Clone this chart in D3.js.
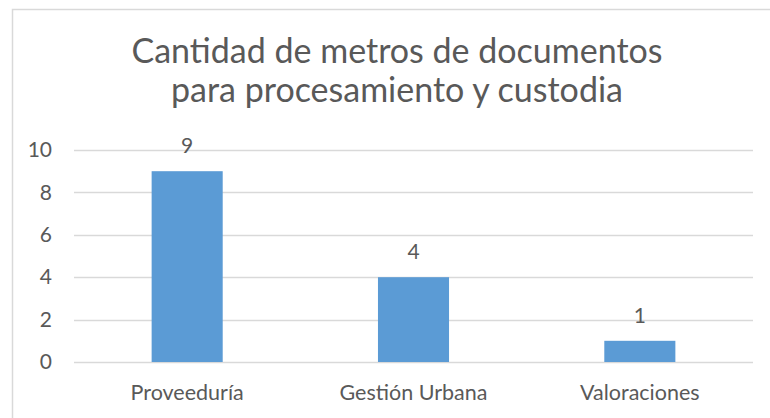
<!DOCTYPE html>
<html>
<head>
<meta charset="utf-8">
<script src="https://cdn.jsdelivr.net/npm/d3@7"></script>
<style>
  body { margin: 0; background: #fff; }
  text { font-family: Lato, "Open Sans", sans-serif; fill: #595959; }
</style>
</head>
<body>
<div id="chart"></div>
<script>
// data
var categories = ["Proveeduría", "Gestión Urbana", "Valoraciones"];
var values = [9, 4, 1];
var yTicks = [0, 2, 4, 6, 8, 10];
var titleLines = ["Cantidad de metros de documentos", "para procesamiento y custodia"];

var width = 770, height = 418;

var svg = d3.select("#chart").append("svg")
  .attr("width", width)
  .attr("height", height);

// chart frame (runs off the right and bottom of the picture)
svg.append("rect")
  .attr("x", 12.5)
  .attr("y", 9.5)
  .attr("width", 780)
  .attr("height", 430)
  .attr("fill", "#fff")
  .attr("stroke", "#d9d9d9")
  .attr("stroke-width", 1.5);

var x = d3.scaleBand()
  .domain(categories)
  .range([74, 753])
  .paddingInner(0.686)
  .paddingOuter(0.343);

var y = d3.scaleLinear()
  .domain([0, 10])
  .range([362, 150]);

// title
svg.append("text")
  .attr("x", 397)
  .attr("y", 63)
  .attr("text-anchor", "middle")
  .style("font-size", "34px")
  .selectAll("tspan")
  .data(titleLines)
  .enter().append("tspan")
  .attr("x", 397)
  .attr("dy", function(d, i) { return i === 0 ? 0 : 39; })
  .text(function(d) { return d; });

// gridlines
svg.append("g")
  .selectAll("line")
  .data(yTicks)
  .enter().append("line")
  .attr("x1", 74)
  .attr("x2", 753)
  .attr("y1", function(d) { return Math.round(y(d)) + 0.5; })
  .attr("y2", function(d) { return Math.round(y(d)) + 0.5; })
  .attr("stroke", "#d9d9d9")
  .attr("stroke-width", 1.3);

// y axis labels
var yAxis = d3.axisLeft(y).tickValues(yTicks).tickSize(0).tickPadding(0);
svg.append("g")
  .attr("transform", "translate(52,0)")
  .call(yAxis)
  .call(function(g) { g.select(".domain").remove(); })
  .selectAll("text")
  .style("font-size", "21px")
  .style("font-family", "Lato, sans-serif")
  .attr("fill", "#595959");

// bars
svg.append("g")
  .selectAll("rect")
  .data(values)
  .enter().append("rect")
  .attr("x", function(d, i) { return x(categories[i]); })
  .attr("y", function(d) { return y(d); })
  .attr("width", x.bandwidth())
  .attr("height", function(d) { return y(0) - y(d); })
  .attr("fill", "#5b9bd5");

// value labels
svg.append("g")
  .selectAll("text")
  .data(values)
  .enter().append("text")
  .attr("x", function(d, i) { return x(categories[i]) + x.bandwidth() / 2; })
  .attr("y", function(d) { return y(d) - 18; })
  .attr("text-anchor", "middle")
  .style("font-size", "21px")
  .text(function(d) { return d; });

// category labels
var xAxis = d3.axisBottom(x).tickSize(0).tickPadding(0);
svg.append("g")
  .attr("transform", "translate(0,385)")
  .call(xAxis)
  .call(function(g) { g.select(".domain").remove(); })
  .selectAll("text")
  .attr("y", 15)
  .attr("dy", 0)
  .style("font-size", "21.5px")
  .style("font-family", "Lato, sans-serif")
  .attr("fill", "#595959");
</script>
</body>
</html>
